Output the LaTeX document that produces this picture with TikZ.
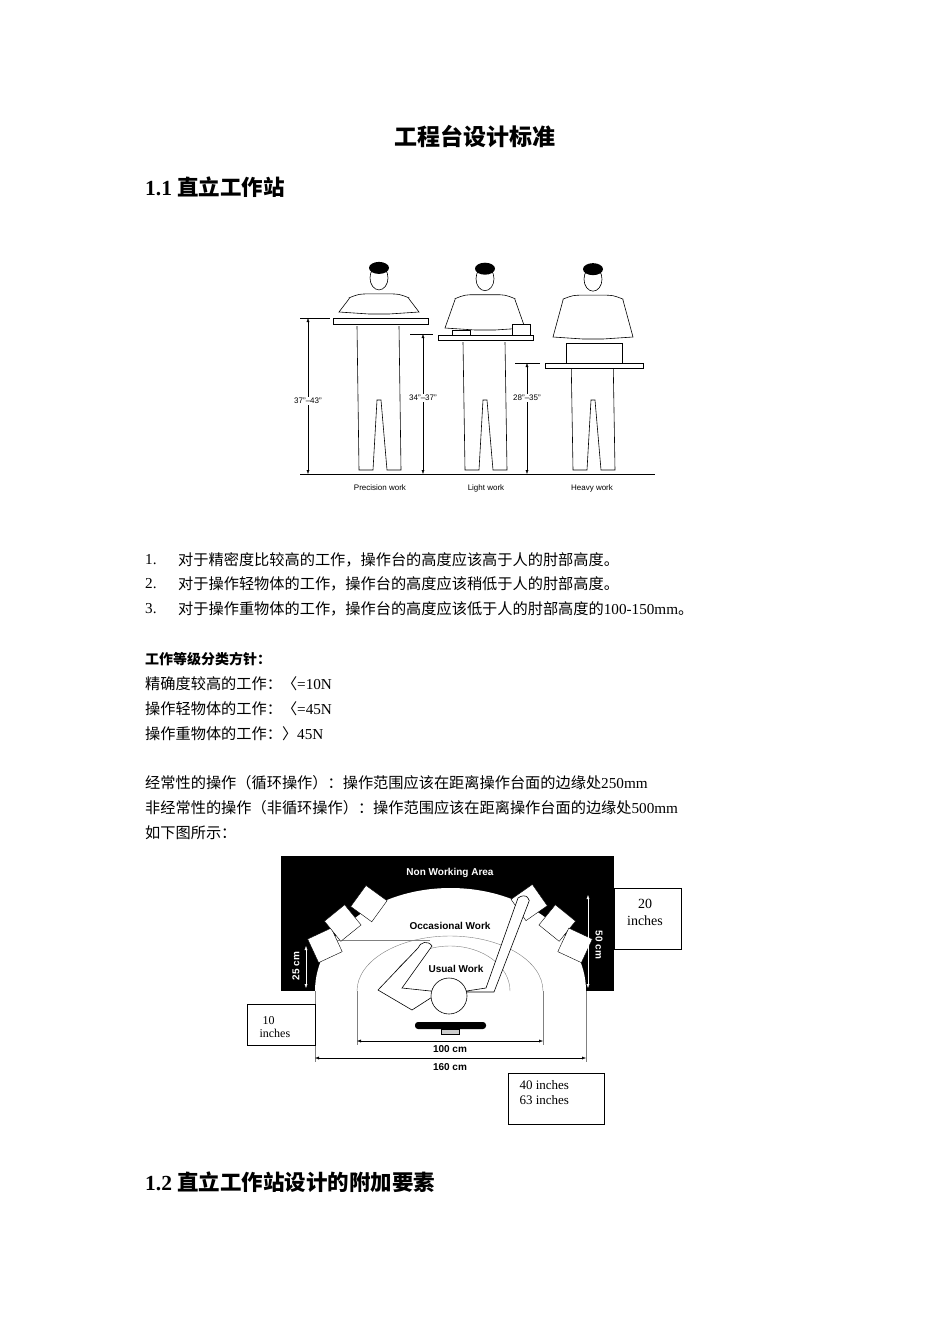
\documentclass[tikz,border=0pt]{standalone}
\usepackage{fontspec}
\setmainfont{Liberation Serif}
\setsansfont{Liberation Sans}
\newfontfamily\cjk{Noto Sans CJK SC}
\usetikzlibrary{arrows.meta}
\begin{document}
\begin{tikzpicture}[x=1pt,y=-1pt,
  txt/.style={anchor=west,inner sep=0,font=\fontsize{15.2}{17}\selectfont},
  dim/.style={draw,thin,{Latex[length=4pt]}-{Latex[length=4pt]}},
  lbl/.style={font=\sffamily\fontsize{8}{9}\selectfont,inner sep=1pt},
  tabletop/.style={draw,fill=white,line width=0.6pt},
  person/.style={draw,line width=0.6pt,fill=white},
  wbox/.style={draw,fill=white,thin},
  blbl/.style={font=\sffamily\bfseries\fontsize{10}{11}\selectfont,inner sep=0}]
\useasboundingbox[fill=white] (0,0) rectangle (950,1344);
\node[font=\cjk\bfseries\fontsize{23}{26}\selectfont] (title) at (475,137) {工程台设计标准};
\node[anchor=west,inner sep=0,font=\bfseries\fontsize{21.5}{24}\selectfont] (h1) at (145,187) {1.1 {\cjk 直立工作站}};
% ---- figure 1
\draw[line width=0.8pt] (300,474) -- (655,474);
\foreach \cx/\ty/\n in {379/318/a,485/334/b,593/343/c}{
  \draw[person] (\cx-22,\ty+8) -- (\cx-20,470) -- (\cx-6,470) -- (\cx-2,400) -- (\cx+2,400) -- (\cx+8,470) -- (\cx+22,470) -- (\cx+20,\ty+8);
  \draw[person] (\cx-24,\ty-6) -- (\cx-30,282+\ty/20) .. controls (\cx-20,278+\ty/20) .. (\cx-8,278+\ty/20) -- (\cx+8,278+\ty/20) .. controls (\cx+20,278+\ty/20) .. (\cx+30,282+\ty/20) -- (\cx+24,\ty-6);
  \draw[person] (\cx-30,283+\ty/20) -- (\cx-40,\ty-6) -- (\cx-10,\ty-4) -- (\cx+10,\ty-4) -- (\cx+40,\ty-6) -- (\cx+30,283+\ty/20);
  \draw[person] (\cx,\ty/20+262) ellipse (9 and 12);
  \fill (\cx,\ty/20+252) ellipse (10 and 6);
}
\draw[tabletop] (333,318) rectangle (428,324);
\draw[tabletop] (438,335) rectangle (533,340);
\draw[wbox] (452,330) rectangle (470,335);
\draw[wbox] (512,324) rectangle (530,335);
\draw[tabletop] (566,343) rectangle (622,363);
\draw[tabletop] (545,363) rectangle (643,368);
\draw (300,318) -- (330,318); \draw (410,334) -- (433,334); \draw (515,363) -- (540,363);
\coordinate (d1t) at (308,318); \coordinate (d1b) at (308,474);
\coordinate (d2t) at (423,334); \coordinate (d2b) at (423,474);
\coordinate (d3t) at (527,363); \coordinate (d3b) at (527,474);
\draw[dim] (d1t) -- (d1b); \draw[dim] (d2t) -- (d2b); \draw[dim] (d3t) -- (d3b);
\node[lbl,fill=white] (l1) at (308,401) {37"--43"};
\node[lbl,fill=white] (l2) at (423,398) {34"--37"};
\node[lbl,fill=white] (l3) at (527,398) {28"--35"};
\node[lbl] (p1) at (380,488) {Precision work};
\node[lbl] (p2) at (486,488) {Light work};
\node[lbl] (p3) at (592,488) {Heavy work};
% ---- list
\foreach \y/\n/\t in {560/1./对于精密度比较高的工作，操作台的高度应该高于人的肘部高度。,
  584/2./对于操作轻物体的工作，操作台的高度应该稍低于人的肘部高度。}{
  \node[txt] at (145,\y) {\n}; \node[txt] at (178,\y) {\cjk \t};}
\node[txt] (n3) at (145,609) {3.};
\node[txt] (t3) at (178,609) {{\cjk 对于操作重物体的工作，操作台的高度应该低于人的肘部高度的}100-150mm{\cjk 。}};
\node[txt,font=\cjk\bfseries\fontsize{14}{16}\selectfont] (cls) at (145,659) {工作等级分类方针：};
\node[txt] (c1) at (145,684) {{\cjk 精确度较高的工作：〈}=10N};
\node[txt] (c2) at (145,709) {{\cjk 操作轻物体的工作：〈}=45N};
\node[txt] (c3) at (145,734) {{\cjk 操作重物体的工作：〉}45N};
\node[txt] (o1) at (145,783) {{\cjk 经常性的操作（循环操作）：操作范围应该在距离操作台面的边缘处}250mm};
\node[txt] (o2) at (145,808) {{\cjk 非经常性的操作（非循环操作）：操作范围应该在距离操作台面的边缘处}500mm};
\node[txt] (o3) at (145,833) {\cjk 如下图所示：};
% ---- figure 2
\fill (281,856) rectangle (614,991);
\fill[white] (315,991) arc (180:360:135.5 and 103) -- cycle;
\draw[gray,thin] (357,991) arc (180:360:93 and 55);
\draw[gray,thin] (390,991) arc (180:270:60 and 45) (510,991) arc (360:270:60 and 45);
\draw[gray,thin] (316,940) -- (430,940);
\foreach \a in {155,141,126,55,39,25}{
  \pgfmathsetmacro\bx{450+138*cos(\a)}
  \pgfmathsetmacro\by{991-108*sin(\a)}
  \draw[wbox,rotate around={90-\a:(\bx,\by)}] (\bx-13,\by-13) rectangle (\bx+13,\by+13);}
\node[blbl,white] (nwa) at (450,873) {Non Working Area};
\node[blbl] (occ) at (450,926) {Occasional Work};
\node[blbl] (usu) at (456,969) {Usual Work};
\draw[person] (518,898) .. controls (526,892) and (532,900) .. (528,904) -- (494,992) -- (460,992) -- (486,988) -- cycle;
\draw[person] (432,946) .. controls (428,940) and (420,942) .. (418,948) -- (378,990) -- (412,1010) -- (440,992) -- (402,988) -- cycle;
\draw[person] (449,996) circle (18);
\fill[rounded corners=3pt] (415,1022) rectangle (486,1029);
\draw[fill=gray!40,thin] (441,1029) rectangle (459,1034);
\draw[gray,thin] (315,991) -- (315,1062) (586,991) -- (586,1062) (357,991) -- (357,1045) (543,991) -- (543,1045);
\coordinate (a1) at (357,1041); \coordinate (a2) at (543,1041);
\coordinate (b1) at (315,1058); \coordinate (b2) at (586,1058);
\draw[dim] (a1) -- (a2); \draw[dim] (b1) -- (b2);
\node[blbl] (cm100) at (450,1049) {100 cm};
\node[blbl] (cm160) at (450,1067) {160 cm};
\coordinate (v1) at (588,895); \coordinate (v2) at (588,988);
\draw[dim,white] (v1) -- (v2);
\node[blbl,white,rotate=-90] (cm50) at (599,945) {50 cm};
\coordinate (w1) at (306,946); \coordinate (w2) at (306,988);
\draw[dim,white] (w1) -- (w2);
\node[blbl,white,rotate=90] (cm25) at (296,966) {25 cm};
\node[draw,fill=white,minimum width=67pt,minimum height=61pt,inner sep=0] (b20) at (647.5,918.5) {};
\node[align=center,font=\fontsize{14}{17}\selectfont] at (645,912) {20\\inches};
\node[draw,fill=white,minimum width=68pt,minimum height=41pt,inner sep=0] (b10) at (281,1025) {};
\node[align=left,font=\fontsize{12}{13}\selectfont,anchor=west] at (256,1027) {\ 10\\inches};
\node[draw,fill=white,minimum width=96pt,minimum height=51pt,inner sep=0] (b40) at (556,1098.5) {};
\node[align=left,font=\fontsize{13}{15}\selectfont,anchor=west] at (516,1093) {40 inches\\63 inches};
\node[anchor=west,inner sep=0,font=\bfseries\fontsize{21.5}{24}\selectfont] (h2) at (145,1182) {1.2 {\cjk 直立工作站设计的附加要素}};
\end{tikzpicture}
\end{document}
